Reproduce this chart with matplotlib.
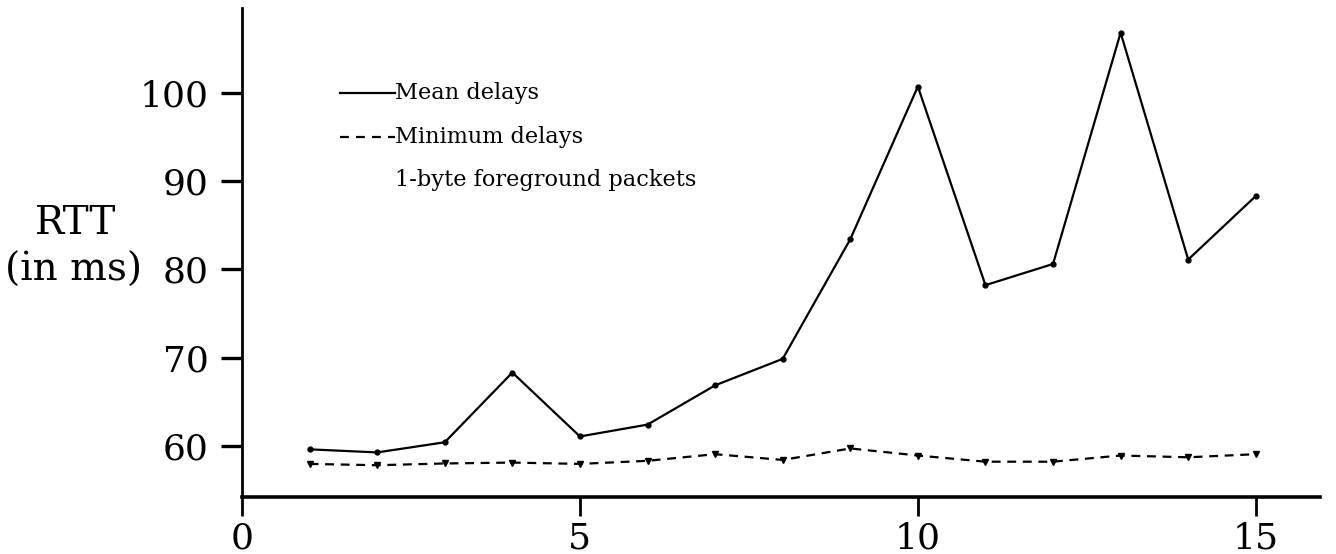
import matplotlib
matplotlib.use("Agg")
import matplotlib.pyplot as plt

x = list(range(1, 16))
mean_delays = [59.6, 59.25, 60.4, 68.3, 61.06, 62.4, 66.85, 69.85, 83.4, 100.7, 78.2, 80.6, 106.8, 81.1, 88.3]
min_delays = [57.95, 57.8, 58.0, 58.1, 57.95, 58.3, 59.05, 58.4, 59.7, 58.9, 58.2, 58.2, 58.9, 58.7, 59.05]
xticks = [0, 5, 10, 15]
yticks = [60, 70, 80, 90, 100]

fig = plt.figure(figsize=(13.36, 5.54), dpi=100)
ax = fig.add_axes([242/1336, 1-497/554, (1320-242)/1336, (497-8)/554])

ax.plot(x, mean_delays, '-', color='black', lw=1.6, marker='o', ms=3.5)
ax.plot(x, min_delays, '--', color='black', lw=1.6, dashes=(4, 3), marker='v', ms=4)

ax.set_xlim(0, 15.95)
ax.set_ylim(54.2, 109.6)
ax.set_xticks(xticks)
ax.set_yticks(yticks)

for s in ['top', 'right']:
    ax.spines[s].set_visible(False)
ax.spines['left'].set_linewidth(2.0)
ax.spines['bottom'].set_linewidth(2.6)

ax.tick_params(axis='y', direction='out', length=15, width=2.4, pad=9, labelsize=26)
ax.tick_params(axis='x', direction='out', length=13.5, width=2.0, pad=4, labelsize=26)
for lab in ax.get_xticklabels() + ax.get_yticklabels():
    lab.set_family('DejaVu Serif')

fig.text(76/1336, 1-224/554, 'RTT', ha='center', va='center', fontsize=28, family='DejaVu Serif')
fig.text(74/1336, 1-270/554, '(in ms)', ha='center', va='center', fontsize=28, family='DejaVu Serif')

# legend
fig.lines.append(plt.Line2D([340/1336, 395/1336], [1-93/554, 1-93/554], color='black', lw=1.6, transform=fig.transFigure))
fig.lines.append(plt.Line2D([340/1336, 395/1336], [1-137/554, 1-137/554], color='black', lw=1.6, ls='--', dashes=(4, 3.2), transform=fig.transFigure))
fig.text(395/1336, 1-93/554, 'Mean delays', ha='left', va='center', fontsize=16.2, family='DejaVu Serif')
fig.text(395/1336, 1-137/554, 'Minimum delays', ha='left', va='center', fontsize=16.2, family='DejaVu Serif')
fig.text(395/1336, 1-180/554, '1-byte foreground packets', ha='left', va='center', fontsize=16.2, family='DejaVu Serif')

fig.savefig('out.png', dpi=100)
